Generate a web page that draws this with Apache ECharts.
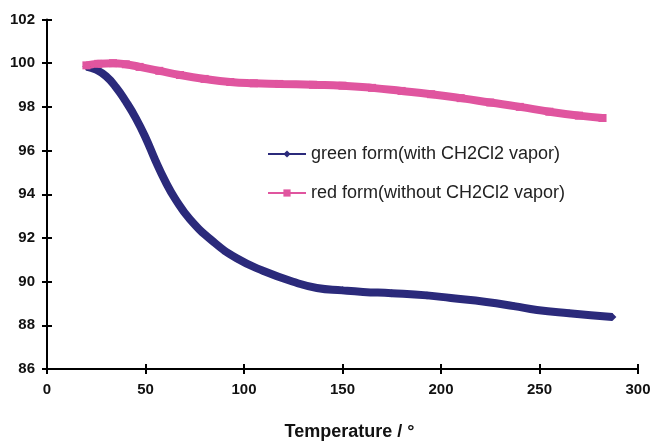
<!DOCTYPE html>
<html><head><meta charset="utf-8">
<script src="https://cdn.jsdelivr.net/npm/echarts@6/dist/echarts.min.js"></script>
<style>html,body{margin:0;padding:0;background:#fff}#c{width:652px;height:441px}</style>
</head><body><div id="c"></div>
<script>
const greenName = 'green form(with CH2Cl2 vapor)';
const redName = 'red form(without CH2Cl2 vapor)';
const greenT = [20, 25, 30, 35, 40, 45, 50, 55, 60, 65, 72.6, 84.4, 96.3, 109.6, 126.9, 137, 150, 160.4, 175, 192.9, 205, 223, 237, 248.7, 265, 287];
const greenV = [99.85, 99.7, 99.4, 98.9, 98.25, 97.5, 96.6, 95.55, 94.6, 93.8, 92.85, 91.83, 91.07, 90.5, 89.94, 89.71, 89.6, 89.53, 89.47, 89.37, 89.25, 89.07, 88.88, 88.7, 88.55, 88.38];
const redT = [20, 26, 33.5, 40, 47, 57, 67.5, 80, 93, 105, 118, 135, 150, 165, 180, 195, 210, 225, 240, 255, 270, 282];
const redV = [99.9, 99.97, 100.0, 99.95, 99.83, 99.65, 99.46, 99.28, 99.14, 99.08, 99.05, 99.01, 98.97, 98.87, 98.73, 98.58, 98.4, 98.2, 98.0, 97.78, 97.6, 97.49];
const xTicks = [0, 50, 100, 150, 200, 250, 300];

const zip = (a, b) => a.map((v, i) => [v, b[i]]);
const chart = echarts.init(document.getElementById('c'));
const FF = 'Liberation Sans, Arial, sans-serif';
const lab = {fontFamily: FF, fontWeight: 'bold', fontSize: 15, color: '#111'};
const axLine = {show: true, lineStyle: {color: '#000', width: 2}};
chart.setOption({
  animation: false,
  backgroundColor: '#fff',
  grid: {left: 47, right: 14, top: 19.5, bottom: 72, containLabel: false, outerBoundsMode: 'none'},
  legend: {
    orient: 'vertical', left: 262, top: 140, itemGap: 21,
    itemWidth: 38, itemHeight: 9,
    textStyle: {fontFamily: FF, fontSize: 18, color: '#222'},
    lineStyle: {width: 2},
    data: [greenName, redName]
  },
  xAxis: [{
    type: 'value', min: 0, max: 300, interval: 50, position: 'bottom',
    axisLine: axLine, axisTick: {show: true, length: 5, lineStyle: {color: '#000', width: 2}},
    splitLine: {show: false},
    axisLabel: Object.assign({margin: 13, customValues: xTicks}, lab),
    name: 'Temperature / °', nameLocation: 'middle', nameGap: 54,
    nameTextStyle: {fontFamily: FF, fontWeight: 'bold', fontSize: 18, color: '#111', padding: [0, 0, 0, 14]}
  }, {
    type: 'value', min: 0, max: 300, interval: 50, position: 'bottom', offset: 0,
    axisLine: {show: false}, axisTick: {show: true, inside: true, length: 5, lineStyle: {color: '#000', width: 2}},
    splitLine: {show: false}, axisLabel: {show: false}
  }],
  yAxis: [{
    type: 'value', min: 86, max: 102, interval: 2, position: 'left',
    axisLine: axLine, axisTick: {show: true, length: 5, lineStyle: {color: '#000', width: 2}},
    splitLine: {show: false},
    axisLabel: Object.assign({margin: 12}, lab)
  }, {
    type: 'value', min: 86, max: 102, interval: 2, position: 'left', offset: 0,
    axisLine: {show: false}, axisTick: {show: true, inside: true, length: 5, lineStyle: {color: '#000', width: 2}},
    splitLine: {show: false}, axisLabel: {show: false}
  }],
  series: [{
    name: greenName, type: 'line', smooth: true, data: zip(greenT, greenV),
    symbol: 'diamond', symbolSize: 8, showSymbol: true,
    lineStyle: {color: '#2B2A7B', width: 8}, itemStyle: {color: '#2B2A7B'}
  }, {
    name: redName, type: 'line', smooth: true, data: zip(redT, redV),
    symbol: 'rect', symbolSize: 8, showSymbol: true,
    lineStyle: {color: '#E0559F', width: 8}, itemStyle: {color: '#E0559F'}
  }]
});
</script></body></html>
